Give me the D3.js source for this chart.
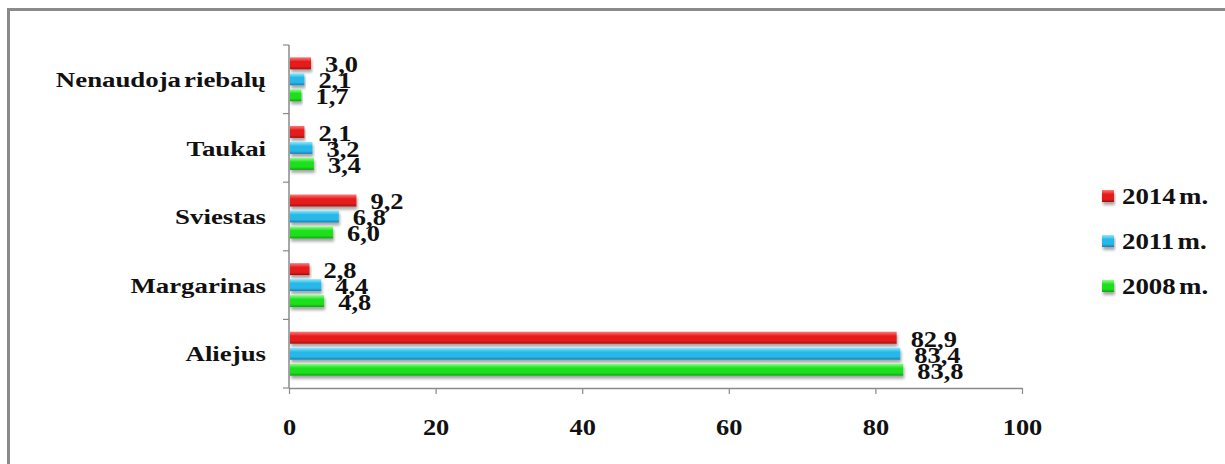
<!DOCTYPE html>
<html><head><meta charset="utf-8">
<script src="https://cdn.jsdelivr.net/npm/d3@7"></script>
<style>
html,body{margin:0;padding:0;background:#fff;}
svg{display:block;}
text{font-family:"Liberation Serif","Times New Roman",serif;font-weight:bold;fill:#111;}
</style></head>
<body>
<svg id="c" width="1225" height="464"></svg>
<script>
const categories = ["Nenaudoja riebalų","Taukai","Sviestas","Margarinas","Aliejus"];
const seriesNames = ["2014 m.","2011 m.","2008 m."];
const values2014 = [3.0, 2.1, 9.2, 2.8, 82.9];
const values2011 = [2.1, 3.2, 6.8, 4.4, 83.4];
const values2008 = [1.7, 3.4, 6.0, 4.8, 83.8];
const xTicks = [0,20,40,60,80,100];
const seriesColors = [
  {top:"#ff7a7a", mid:"#e61e1e", bot:"#a50d0d"},
  {top:"#8fe9ff", mid:"#28b8e8", bot:"#1a7fae"},
  {top:"#8cff8c", mid:"#1fe01f", bot:"#11a011"}
];
const seriesValues = [values2014, values2011, values2008];

const svg = d3.select("#c");
const fmt = v => d3.format(".1f")(v).replace(".", ",");

// frame
svg.append("rect").attr("x",8.5).attr("y",9.5).attr("width",1240).attr("height",480)
  .attr("fill","none").attr("stroke","#8a8a8a").attr("stroke-width",3);

const defs = svg.append("defs");
seriesColors.forEach((c,i)=>{
  const g = defs.append("linearGradient").attr("id","g"+i).attr("x1",0).attr("y1",0).attr("x2",0).attr("y2",1);
  g.append("stop").attr("offset","0%").attr("stop-color",c.top);
  g.append("stop").attr("offset","35%").attr("stop-color",c.mid);
  g.append("stop").attr("offset","75%").attr("stop-color",c.mid);
  g.append("stop").attr("offset","100%").attr("stop-color",c.bot);
});
const sh = defs.append("filter").attr("id","sh").attr("x","-5%").attr("y","-30%").attr("width","115%").attr("height","180%");
sh.append("feDropShadow").attr("dx",1).attr("dy",3).attr("stdDeviation",1.5).attr("flood-color","#000").attr("flood-opacity",0.35);

const x = d3.scaleLinear().domain([0,100]).range([289,1022]);
const y = d3.scaleBand().domain(categories).range([45,388]).padding(0);
const ys = d3.scaleBand().domain(seriesNames).range([0,y.bandwidth()]).paddingInner(0.25).paddingOuter(0.77);

// x axis
const xAxis = svg.append("g").attr("transform","translate(0,388)")
  .call(d3.axisBottom(x).tickValues(xTicks).tickSize(6).tickPadding(24).tickSizeOuter(0));
xAxis.select(".domain").attr("stroke","#8a8a8a").attr("stroke-width",1.5);
xAxis.selectAll(".tick line").attr("stroke","#8a8a8a").attr("stroke-width",1.2);
xAxis.selectAll(".tick text").style("font-size","24px").style("font-family","Liberation Serif").style("font-weight","bold").attr("fill","#111")
  .attr("transform","scale(1.1,1)");

// y axis line and boundary ticks
svg.append("line").attr("x1",289).attr("x2",289).attr("y1",y.range()[0]).attr("y2",y.range()[1])
  .attr("stroke","#8a8a8a").attr("stroke-width",1.5);
const bounds = categories.map(c=>y(c)).concat([y.range()[1]]);
svg.selectAll(".ytick").data(bounds).enter().append("line")
  .attr("x1",283).attr("x2",289).attr("y1",d=>d).attr("y2",d=>d)
  .attr("stroke","#8a8a8a").attr("stroke-width",1.2);

// category labels
svg.selectAll(".cat").data(categories).enter().append("text")
  .attr("transform",d=>`translate(266,${y(d)+y.bandwidth()/2}) scale(1.22,1)`)
  .attr("text-anchor","end").attr("dominant-baseline","central")
  .style("font-size","22px").style("word-spacing","-3px").text(d=>d);

// bars
seriesNames.forEach((s,si)=>{
  const data = categories.map((c,ci)=>({c, v: seriesValues[si][ci]}));
  svg.append("g").selectAll("rect").data(data).enter().append("rect")
    .attr("x",x(0)+1).attr("y",d=>y(d.c)+ys(s))
    .attr("width",d=>x(d.v)-x(0)-1).attr("height",ys.bandwidth())
    .attr("fill",`url(#g${si})`).attr("filter","url(#sh)");
});
// value labels
seriesNames.forEach((s,si)=>{
  const data = categories.map((c,ci)=>({c, v: seriesValues[si][ci]}));
  svg.append("g").selectAll("text").data(data).enter().append("text")
    .attr("transform",d=>`translate(${x(d.v)+14},${y(d.c)+ys(s)+ys.bandwidth()/2+1}) scale(1.15,1)`)
    .attr("dominant-baseline","central")
    .style("font-size","23px").text(d=>fmt(d.v));
});

// legend
const legendY = d3.scalePoint().domain(seriesNames).range([196,286]);
const lg = svg.append("g").selectAll("g").data(seriesNames).enter().append("g");
lg.append("rect").attr("x",1102).attr("y",d=>legendY(d)-6).attr("width",12).attr("height",12)
  .attr("fill",(d,i)=>`url(#g${i})`).attr("filter","url(#sh)");
lg.append("text").attr("transform",d=>`translate(1122,${legendY(d)}) scale(1.12,1)`)
  .attr("dominant-baseline","central").style("font-size","24px").style("word-spacing","-3px").text(d=>d);
</script>
</body></html>
